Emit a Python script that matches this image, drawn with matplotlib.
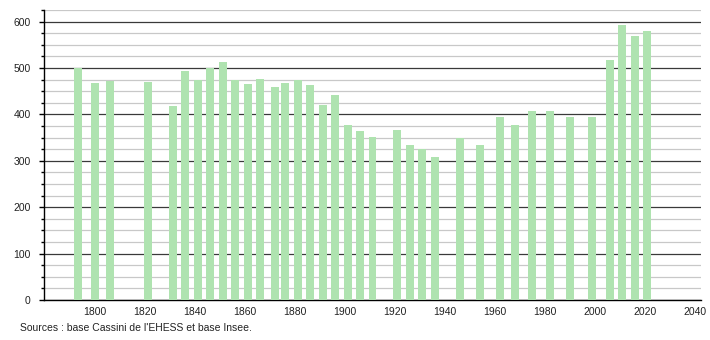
import matplotlib
matplotlib.use("Agg")
import matplotlib.pyplot as plt
from matplotlib.ticker import MultipleLocator

years = [1793, 1800, 1806, 1821, 1831, 1836, 1841, 1846, 1851, 1856, 1861, 1866,
         1872, 1876, 1881, 1886, 1891, 1896, 1901, 1906, 1911, 1921, 1926, 1931,
         1936, 1946, 1954, 1962, 1968, 1975, 1982, 1990, 1999, 2006, 2011, 2016, 2021]
population = [500, 467, 471, 469, 419, 493, 475, 499, 512, 475, 465, 477,
              458, 467, 475, 464, 421, 441, 378, 365, 352, 367, 334, 326,
              309, 349, 333, 395, 378, 408, 408, 395, 395, 518, 592, 568, 579]
x_ticks = [1800, 1820, 1840, 1860, 1880, 1900, 1920, 1940, 1960, 1980, 2000, 2020, 2040]
source_text = "Sources : base Cassini de l'EHESS et base Insee."

plt.rcParams['font.family'] = ['Liberation Sans', 'DejaVu Sans']

fig = plt.figure(figsize=(7.1, 3.4), dpi=100)
ax = fig.add_axes([44/710, 40/340, (701-44)/710, 290/340])

ax.bar(years, population, width=3.2, color='#afe3b0', zorder=3)

ax.set_xlim(1779.5, 2042.5)
ax.set_ylim(0, 625)
ax.set_xticks(x_ticks)
ax.yaxis.set_major_locator(MultipleLocator(100))
ax.yaxis.set_minor_locator(MultipleLocator(25))

ax.grid(which='major', axis='y', color='#3a3a3a', linewidth=0.9, zorder=1)
ax.grid(which='minor', axis='y', color='#c8c8c8', linewidth=0.9, zorder=1)
ax.set_axisbelow(True)

for s in ['top', 'right']:
    ax.spines[s].set_visible(False)
for s in ['left', 'bottom']:
    ax.spines[s].set_color('black')
    ax.spines[s].set_linewidth(1.0)

ax.tick_params(axis='x', length=0, pad=5, labelsize=7.5, colors='#222222')
ax.tick_params(axis='y', which='major', length=3.5, width=1.0, pad=6, labelsize=7.5, colors='#222222')
ax.tick_params(axis='y', which='minor', length=2, width=1.0)
ax.tick_params(axis='both', color='black')

fig.text(20/710, 1 - 328/340, source_text, fontsize=7.5, color='#222222', va='center', ha='left')

fig.savefig('out.png', dpi=100, facecolor='white')
